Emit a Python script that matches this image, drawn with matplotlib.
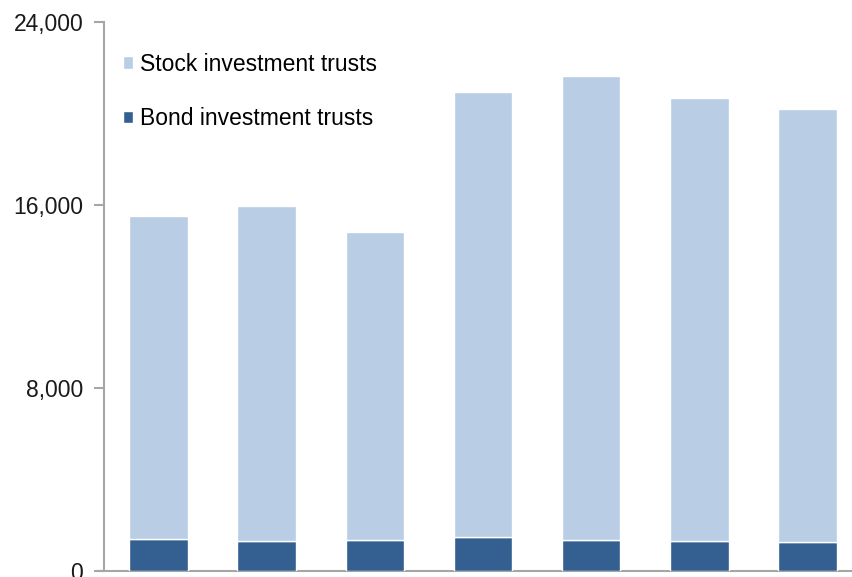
import matplotlib.pyplot as plt
import numpy as np

plt.rcParams['font.family'] = ['Liberation Sans', 'DejaVu Sans']

# values
periods = ['1', '2', '3', '4', '5', '6', '7']
bond = [1400, 1325, 1355, 1485, 1355, 1310, 1280]
total = [15520, 15960, 14820, 20920, 21640, 20670, 20190]
stock = [t - b for t, b in zip(total, bond)]
yticks = [0, 8000, 16000, 24000]

col_stock = '#B9CDE5'
col_bond = '#336090'
axis_col = '#A6A6A6'

fig = plt.figure(figsize=(8.52, 5.77), dpi=100)
ax = fig.add_axes([104 / 852, 1 - 571 / 577, 748 / 852, 549 / 577])

x = np.arange(len(periods))
w = 0.54
ax.bar(x, bond, width=w, color=col_bond, edgecolor='white', linewidth=1,
       label='Bond investment trusts', zorder=3)
ax.bar(x, stock, width=w, bottom=bond, color=col_stock, edgecolor='white',
       linewidth=1, label='Stock investment trusts', zorder=3)

ax.set_ylim(0, 24000)
ax.set_xlim(-0.503, 6.41)
ax.set_yticks(yticks)
ax.yaxis.set_major_formatter(plt.FuncFormatter(lambda v, _: '{:,.0f}'.format(v)))
ax.tick_params(axis='y', length=7, width=1.5, color=axis_col, pad=8,
               labelsize=16.5, labelcolor='#1a1a1a')
ax.set_xticks([])

for s in ['top', 'right']:
    ax.spines[s].set_visible(False)
for s in ['left', 'bottom']:
    ax.spines[s].set_color(axis_col)
    ax.spines[s].set_linewidth(1.5)
ax.spines['bottom'].set_bounds(-0.56, 6.41)
ax.spines['bottom'].set_clip_on(False)

h, l = ax.get_legend_handles_labels()
ax.legend(h[::-1], l[::-1], loc='upper left', bbox_to_anchor=(0.025, 0.944),
          frameon=False, fontsize=16.5, handlelength=0.45, handleheight=0.45,
          handletextpad=0.3, labelspacing=1.36, borderpad=0, borderaxespad=0)

fig.savefig('out.png', dpi=100)
